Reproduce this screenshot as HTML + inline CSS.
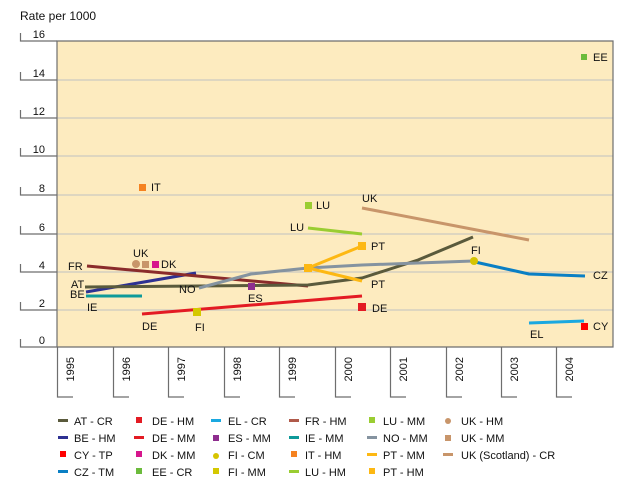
<!DOCTYPE html>
<html><head><meta charset="utf-8"><style>
body{margin:0;background:#fff;}
svg text{font-family:"Liberation Sans",Arial,sans-serif;font-size:11px;fill:#111;}
</style></head><body>
<svg width="640" height="490" viewBox="0 0 640 490" xmlns="http://www.w3.org/2000/svg">
<text x="20" y="20" style="font-size:12px">Rate per 1000</text>
<rect x="57" y="41" width="556" height="306" fill="#fdebbf"/>
<g stroke="#c0c0c0" stroke-width="1">
<line x1="57" y1="80" x2="613" y2="80"/><line x1="57" y1="118" x2="613" y2="118"/>
<line x1="57" y1="156" x2="613" y2="156"/><line x1="57" y1="195" x2="613" y2="195"/>
<line x1="57" y1="234" x2="613" y2="234"/><line x1="57" y1="272" x2="613" y2="272"/>
<line x1="57" y1="310" x2="613" y2="310"/>
</g>
<g stroke="#6e6e6e" stroke-width="1.2" fill="none">
<polyline points="57,347 57,41 613,41 613,347 57,347"/>
<path d="M20.5,33V41H57 M20.5,72V80H57 M20.5,110V118H57 M20.5,148V156H57 M20.5,187V195H57 M20.5,226V234H57 M20.5,264V272H57 M20.5,302V310H57 M20.5,339V347H57"/>
<path d="M57.5,347V397H73 M113.5,347V397H129 M168.5,347V397H184 M224.5,347V397H240 M279.5,347V397H295 M335.5,347V397H351 M390.5,347V397H406 M446.5,347V397H462 M501.5,347V397H517 M556.5,347V397H572"/>
</g>
<g text-anchor="end" style="font-size:13px">
<text x="45" y="38">16</text><text x="45" y="77">14</text><text x="45" y="115">12</text><text x="45" y="153">10</text>
<text x="45" y="192">8</text><text x="45" y="231">6</text><text x="45" y="269">4</text><text x="45" y="307">2</text><text x="45" y="344">0</text>
</g>
<g style="font-size:13px">
<text transform="translate(74,357) rotate(-90)" text-anchor="end">1995</text>
<text transform="translate(130,357) rotate(-90)" text-anchor="end">1996</text>
<text transform="translate(185,357) rotate(-90)" text-anchor="end">1997</text>
<text transform="translate(241,357) rotate(-90)" text-anchor="end">1998</text>
<text transform="translate(296,357) rotate(-90)" text-anchor="end">1999</text>
<text transform="translate(352,357) rotate(-90)" text-anchor="end">2000</text>
<text transform="translate(407,357) rotate(-90)" text-anchor="end">2001</text>
<text transform="translate(463,357) rotate(-90)" text-anchor="end">2002</text>
<text transform="translate(518,357) rotate(-90)" text-anchor="end">2003</text>
<text transform="translate(573,357) rotate(-90)" text-anchor="end">2004</text>
</g>
<g fill="none" stroke-width="3" stroke-linejoin="round">
<polyline stroke="#c8956a" points="362,208 529,240"/>
<polyline stroke="#9acd32" points="308,228 362,234"/>
<polyline stroke="#e31b23" points="142,314 362,296"/>
<polyline stroke="#0e9a9a" points="86,296 142,296"/>
<polyline stroke="#2e3192" points="86,292 196,273"/>
<polyline stroke="#8a2b2b" points="87,266 308,286"/>
<polyline stroke="#5a5a3c" points="85,287 308,285 362,278 418,260 473,237"/>
<polyline stroke="#8593a0" points="199,288 251,274 308,268 362,265 418,263 473,261"/>
<polyline stroke="#fdb813" points="362,246 308,268 362,281"/>
<polyline stroke="#0a7fc4" points="475,262 529,274 585,276"/>
<polyline stroke="#1aa8e0" points="529,323 584,321"/>
</g>
<rect x="304" y="264" width="8" height="8" fill="#fdb813"/>
<rect x="358" y="242" width="8" height="8" fill="#fdb813"/>
<rect x="358" y="303" width="8" height="8" fill="#e31b23"/>
<rect x="248" y="283" width="7" height="7" fill="#8e2d8e"/>
<rect x="193" y="308" width="8" height="8" fill="#d4c800"/>
<circle cx="136" cy="264" r="4" fill="#c8956a"/>
<rect x="142" y="261" width="7" height="7" fill="#c8956a"/>
<rect x="152" y="261" width="7" height="7" fill="#d6168c"/>
<rect x="139" y="184" width="7" height="7" fill="#f58220"/>
<rect x="305" y="202" width="7" height="7" fill="#9acd32"/>
<circle cx="474" cy="261" r="4" fill="#d6c400"/>
<rect x="581" y="323" width="7" height="7" fill="#ff0000"/>
<rect x="581" y="54" width="6" height="6" fill="#6cbb3c"/>
<g>
<text x="68" y="270">FR</text><text x="71" y="288">AT</text><text x="70" y="298">BE</text><text x="87" y="311">IE</text>
<text x="142" y="330">DE</text><text x="195" y="331">FI</text><text x="248" y="302">ES</text><text x="179" y="293">NO</text>
<text x="133" y="257">UK</text><text x="161" y="268">DK</text><text x="151" y="191">IT</text>
<text x="316" y="209">LU</text><text x="290" y="231">LU</text><text x="371" y="250">PT</text><text x="371" y="288">PT</text>
<text x="362" y="202">UK</text><text x="372" y="312">DE</text><text x="471" y="254">FI</text>
<text x="593" y="279">CZ</text><text x="530" y="338">EL</text><text x="593" y="330">CY</text><text x="593" y="61">EE</text>
</g>
<g>
<rect x="58" y="419" width="10" height="3" fill="#5a5a3c"/><text x="74" y="425">AT - CR</text>
<rect x="58" y="436" width="10" height="3" fill="#2e3192"/><text x="74" y="442">BE - HM</text>
<rect x="60" y="451" width="6" height="6" fill="#ff0000"/><text x="74" y="459">CY - TP</text>
<rect x="58" y="470" width="10" height="3" fill="#0a7fc4"/><text x="74" y="476">CZ - TM</text>
<rect x="136" y="417" width="6" height="6" fill="#e31b23"/><text x="152" y="425">DE - HM</text>
<rect x="134" y="436" width="10" height="3" fill="#e31b23"/><text x="152" y="442">DE - MM</text>
<rect x="136" y="451" width="6" height="6" fill="#d6168c"/><text x="152" y="459">DK - MM</text>
<rect x="136" y="468" width="6" height="6" fill="#6cbb3c"/><text x="152" y="476">EE - CR</text>
<rect x="211" y="419" width="10" height="3" fill="#1aa8e0"/><text x="228" y="425">EL - CR</text>
<rect x="213" y="435" width="6" height="6" fill="#8e2d8e"/><text x="228" y="442">ES - MM</text>
<circle cx="216" cy="456" r="3" fill="#d6c400"/><text x="228" y="459">FI - CM</text>
<rect x="213" y="468" width="6" height="6" fill="#d4c800"/><text x="228" y="476">FI - MM</text>
<rect x="289" y="419" width="10" height="3" fill="#b05a4a"/><text x="305" y="425">FR - HM</text>
<rect x="289" y="436" width="10" height="3" fill="#0e9a9a"/><text x="305" y="442">IE - MM</text>
<rect x="291" y="451" width="6" height="6" fill="#f58220"/><text x="305" y="459">IT - HM</text>
<rect x="289" y="470" width="10" height="3" fill="#9acd32"/><text x="305" y="476">LU - HM</text>
<rect x="369" y="417" width="6" height="6" fill="#9acd32"/><text x="383" y="425">LU - MM</text>
<rect x="367" y="436" width="10" height="3" fill="#8593a0"/><text x="383" y="442">NO - MM</text>
<rect x="367" y="453" width="10" height="3" fill="#fdb813"/><text x="383" y="459">PT - MM</text>
<rect x="369" y="468" width="6" height="6" fill="#fdb813"/><text x="383" y="476">PT - HM</text>
<circle cx="448" cy="421" r="3" fill="#c8956a"/><text x="461" y="425">UK - HM</text>
<rect x="445" y="435" width="6" height="6" fill="#c8956a"/><text x="461" y="442">UK - MM</text>
<rect x="443" y="453" width="10" height="3" fill="#c8956a"/><text x="461" y="459">UK (Scotland) - CR</text>
</g>
</svg>
</body></html>
